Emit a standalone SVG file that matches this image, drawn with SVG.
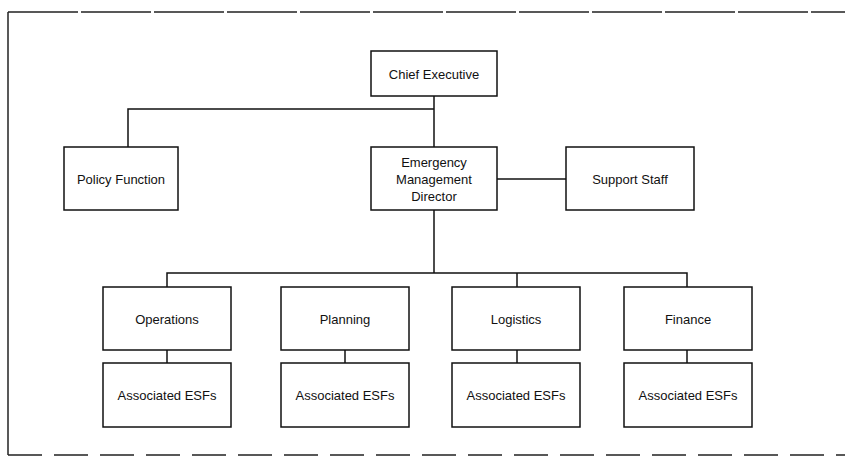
<svg xmlns="http://www.w3.org/2000/svg" width="849" height="458" viewBox="0 0 849 458">
<style>
.box{fill:#fff;stroke:#111;stroke-width:1.5}
.lbl{font-family:"Liberation Sans",Arial,sans-serif;font-size:13px;fill:#111;text-anchor:middle;dominant-baseline:central}
.con{stroke:#111;stroke-width:1.5;fill:none}
.frame{stroke:#222;stroke-width:1.5;fill:none}
</style>
<rect width="849" height="458" fill="#fff"/>
<g id="frame">
<path class="frame" d="M8,12 H845" stroke-dasharray="70,3"/>
<path class="frame" d="M8,12 V455"/>
<path class="frame" d="M8,455 H845" stroke-dasharray="34,12"/>
</g>
<g id="connectors">
<path class="con" d="M434,96 V147"/>
<path class="con" d="M434,109 H128 V147"/>
<path class="con" d="M497,179 H566"/>
<path class="con" d="M434,210 V273"/>
<path class="con" d="M167,287 V273 H687 V287"/>
<path class="con" d="M517,273 V287"/>
<path class="con" d="M167,350 V363"/>
<path class="con" d="M345,350 V363"/>
<path class="con" d="M517,350 V363"/>
<path class="con" d="M687,350 V363"/>
</g>
<g id="chief"><rect class="box" x="371" y="51" width="126" height="45"/><text class="lbl" x="434" y="74">Chief Executive</text></g>
<g id="policy"><rect class="box" x="64" y="147" width="114" height="63"/><text class="lbl" x="121" y="179">Policy Function</text></g>
<g id="emd"><rect class="box" x="371" y="147" width="126" height="63"/><text class="lbl" x="434" y="162">Emergency</text><text class="lbl" x="434" y="179">Management</text><text class="lbl" x="434" y="196">Director</text></g>
<g id="support"><rect class="box" x="566" y="147" width="128" height="63"/><text class="lbl" x="630" y="179">Support Staff</text></g>
<g id="operations"><rect class="box" x="103" y="287" width="128" height="63"/><text class="lbl" x="167" y="319">Operations</text></g>
<g id="planning"><rect class="box" x="281" y="287" width="128" height="63"/><text class="lbl" x="345" y="319">Planning</text></g>
<g id="logistics"><rect class="box" x="452" y="287" width="128" height="63"/><text class="lbl" x="516" y="319">Logistics</text></g>
<g id="finance"><rect class="box" x="624" y="287" width="128" height="63"/><text class="lbl" x="688" y="319">Finance</text></g>
<g id="esf1"><rect class="box" x="103" y="363" width="128" height="64"/><text class="lbl" x="167" y="395">Associated ESFs</text></g>
<g id="esf2"><rect class="box" x="281" y="363" width="128" height="64"/><text class="lbl" x="345" y="395">Associated ESFs</text></g>
<g id="esf3"><rect class="box" x="452" y="363" width="128" height="64"/><text class="lbl" x="516" y="395">Associated ESFs</text></g>
<g id="esf4"><rect class="box" x="624" y="363" width="128" height="64"/><text class="lbl" x="688" y="395">Associated ESFs</text></g>
</svg>
